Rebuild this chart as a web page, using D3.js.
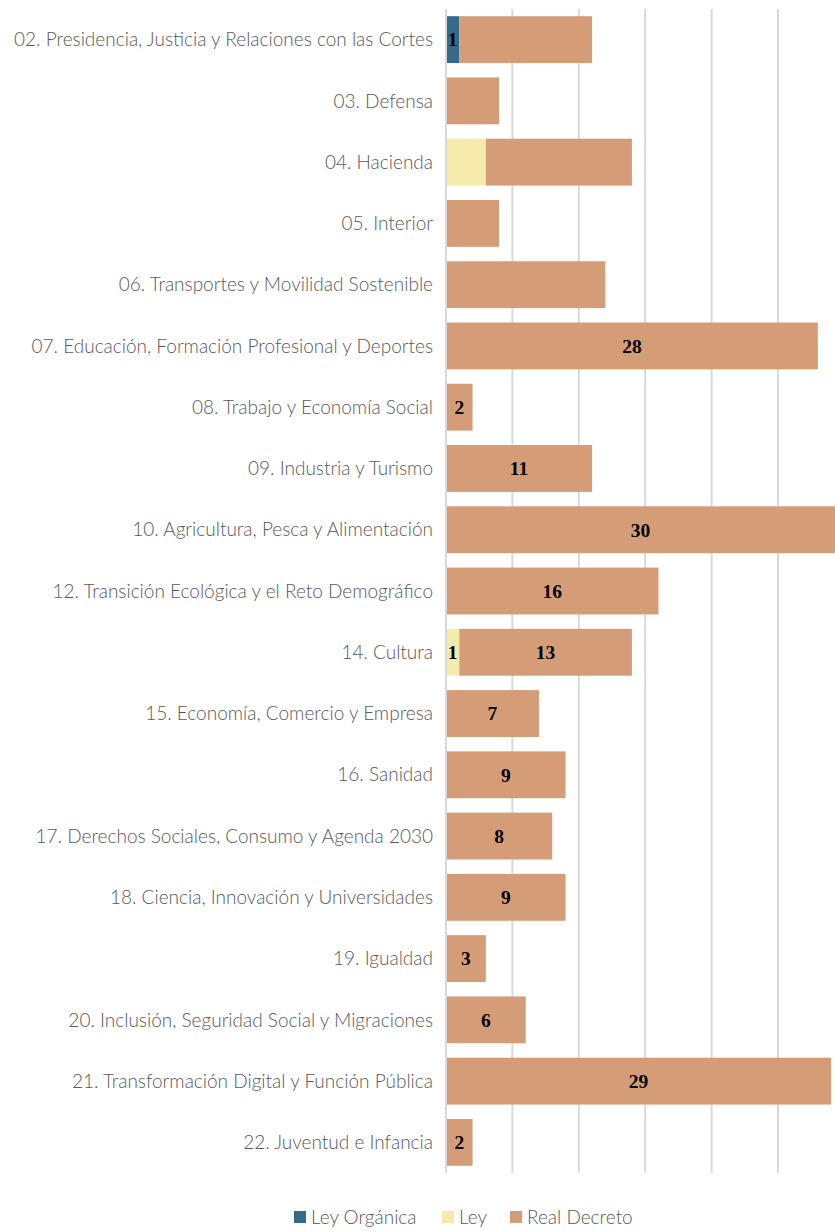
<!DOCTYPE html>
<html>
<head>
<meta charset="utf-8">
<script src="https://cdn.jsdelivr.net/npm/d3@7"></script>
<style>
  body { margin: 0; background: #fff; }
  svg { display: block; }
  .cat { font-family: Lato, "Open Sans", sans-serif; font-weight: 300; font-size: 19px; fill: #595959; }
  .val { font-family: "Liberation Serif", serif; font-weight: bold; font-size: 19.5px; fill: #000; }
  .legend text { font-family: Lato, "Open Sans", sans-serif; font-weight: 300; font-size: 19px; fill: #595959; }
</style>
</head>
<body>
<div id="chart"></div>
<script>
const categories = [
  "02. Presidencia, Justicia y Relaciones con las Cortes",
  "03. Defensa",
  "04. Hacienda",
  "05. Interior",
  "06. Transportes y Movilidad Sostenible",
  "07. Educación, Formación Profesional y Deportes",
  "08. Trabajo y Economía Social",
  "09. Industria y Turismo",
  "10. Agricultura, Pesca y Alimentación",
  "12. Transición Ecológica y el Reto Demográfico",
  "14. Cultura",
  "15. Economía, Comercio y Empresa",
  "16. Sanidad",
  "17. Derechos Sociales, Consumo y Agenda 2030",
  "18. Ciencia, Innovación y Universidades",
  "19. Igualdad",
  "20. Inclusión, Seguridad Social y Migraciones",
  "21. Transformación Digital y Función Pública",
  "22. Juventud e Infancia"
];
const leyOrganica = [1,0,0,0,0,0,0,0,0,0,0,0,0,0,0,0,0,0,0];
const ley         = [0,0,3,0,0,0,0,0,0,0,1,0,0,0,0,0,0,0,0];
const realDecreto = [10,4,11,4,12,28,2,11,30,16,13,7,9,8,9,3,6,29,2];
// which data labels the original shows (the rest were hidden)
const showLeyOrganica = [true,false,false,false,false,false,false,false,false,false,false,false,false,false,false,false,false,false,false];
const showLey         = [false,false,false,false,false,false,false,false,false,false,true,false,false,false,false,false,false,false,false];
const showRealDecreto = [false,false,false,false,false,true,true,true,true,true,true,true,true,true,true,true,true,true,true];
const seriesNames = ["Ley Orgánica", "Ley", "Real Decreto"];
const xTicks = [0, 5, 10, 15, 20, 25, 30];

const colors = ["#346a8a", "#f5ebaa", "#d49d78"];
const W = 835, H = 1231;
const margin = {left: 446, top: 9, right: 0, bottom: 58};

const rows = categories.map((c, i) => ({
  cat: c, values: [leyOrganica[i], ley[i], realDecreto[i]],
  show: [showLeyOrganica[i], showLey[i], showRealDecreto[i]]
}));

const svg = d3.select("#chart").append("svg")
  .attr("width", W).attr("height", H);

const x = d3.scaleLinear().domain([0, 30]).range([margin.left, margin.left + 30 * 13.28]);
const y = d3.scaleBand().domain(categories)
  .range([margin.top, H - margin.bottom])
  .paddingInner(0.235).paddingOuter(0.117);

// gridlines
svg.append("g")
  .selectAll("line")
  .data(xTicks.slice(1))
  .join("line")
  .attr("x1", d => x(d)).attr("x2", d => x(d))
  .attr("y1", margin.top).attr("y2", H - margin.bottom)
  .attr("stroke", "#d9d9d9").attr("stroke-width", 2);

// bars
const stackRows = svg.append("g").selectAll("g.row")
  .data(rows).join("g").attr("class", "row");

stackRows.each(function(r) {
  let acc = 0;
  const segs = r.values.map((v, k) => {
    const s = {k, v, x0: acc, x1: acc + v, show: r.show[k]};
    acc += v;
    return s;
  }).filter(s => s.v > 0);
  const g = d3.select(this);
  g.selectAll("rect").data(segs).join("rect")
    .attr("x", s => x(s.x0))
    .attr("width", s => x(s.x1) - x(s.x0))
    .attr("y", y(r.cat))
    .attr("height", y.bandwidth())
    .attr("fill", s => colors[s.k]);
  g.selectAll("text").data(segs.filter(s => s.show)).join("text")
    .attr("class", "val")
    .attr("x", s => Math.min((x(s.x0) + x(s.x1)) / 2, (x(s.x0) + W) / 2))
    .attr("y", y(r.cat) + y.bandwidth() / 2)
    .attr("dy", "0.35em")
    .attr("text-anchor", "middle")
    .text(s => s.v);
});

// vertical axis line
svg.append("line")
  .attr("x1", x(0)).attr("x2", x(0))
  .attr("y1", margin.top).attr("y2", H - margin.bottom)
  .attr("stroke", "#d9d9d9").attr("stroke-width", 2);

// category labels
svg.append("g").selectAll("text")
  .data(categories).join("text")
  .attr("class", "cat")
  .attr("x", x(0) - 13)
  .attr("y", d => y(d) + y.bandwidth() / 2)
  .attr("dy", "0.35em")
  .attr("text-anchor", "end")
  .text(d => d);

// legend
const legend = svg.append("g").attr("class", "legend")
  .attr("transform", "translate(0," + (H - 14) + ")");
const legendX = [294, 442, 510];
seriesNames.forEach((name, k) => {
  legend.append("rect")
    .attr("x", legendX[k]).attr("y", -6)
    .attr("width", 12).attr("height", 12)
    .attr("fill", colors[k]);
  legend.append("text")
    .attr("x", legendX[k] + 17).attr("y", 0)
    .attr("dy", "0.35em")
    .text(name);
});
</script>
</body>
</html>
